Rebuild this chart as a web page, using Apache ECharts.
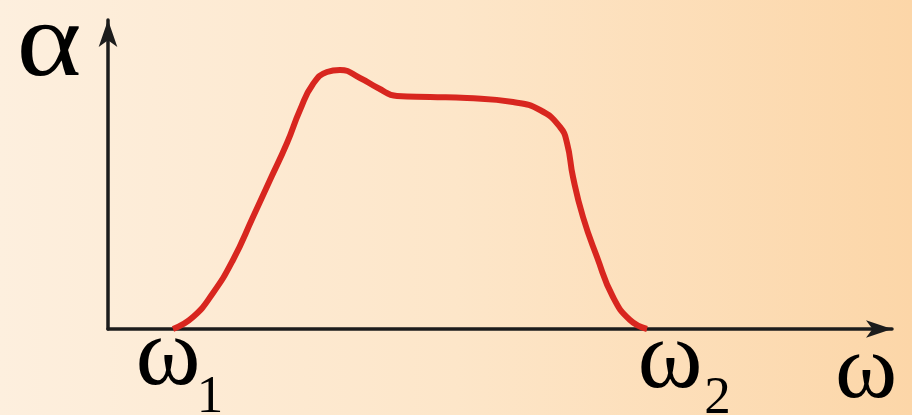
<!DOCTYPE html>
<html>
<head>
<meta charset="utf-8">
<script src="https://cdn.jsdelivr.net/npm/echarts@6/dist/echarts.min.js"></script>
<style>
html,body{margin:0;padding:0;}
#chart{width:912px;height:415px;}
</style>
</head>
<body>
<div id="chart"></div>
<script>
// curve samples: omega (x) and alpha (y), arbitrary units
const omega = [65,85,105,125,145,162,179,192,205,219,232,252,270,289,322,359,405,432,452,459,465,475,489,505,522,539];
const alpha = [0,12,36,69,112,149,186,219,245,257,259,251,241,233,232,231,227,219,202,186,152,112,72,32,9,0];
const tickLabels = ['ω', 'ω'];
const tickSubs = ['1', '2'];
const tickValues = [60, 562];   // centre of the ω glyph of each label
const xName = 'ω';
const yName = 'α';

const chart = echarts.init(document.getElementById('chart'));
const fam = '"Liberation Serif", serif';

function txt(x, y, s, size, sx) {
  return {type: 'text', x: x, y: y, scaleX: sx || 1, silent: true,
    style: {text: s, fontFamily: fam, fontSize: size, fill: '#000', align: 'center', verticalAlign: 'middle'}};
}

function buildGraphic() {
  const g = [];
  tickValues.forEach((v, i) => {
    const p = chart.convertToPixel({gridIndex: 0}, [v, 0]);
    g.push(txt(p[0], 359 + (i ? 2.5 : 0), tickLabels[i], 97, 1.02));
    g.push(txt(p[0] + (i ? 47.5 : 42), 398 + (i ? 1.5 : 0), tickSubs[i], 53));
  });
  g.push(txt(866, 373.5, xName, 90, 1.05));
  g.push(txt(49, 47, yName, 106, 1.17));
  return g;
}

chart.setOption({
  animation: false,
  backgroundColor: {
    type: 'linear', x: 0, y: 0, x2: 1, y2: 0,
    colorStops: [
      {offset: 0, color: '#fdefde'},
      {offset: 0.5, color: '#fde6c9'},
      {offset: 1, color: '#fcd6a8'}
    ]
  },
  grid: {left: 108, right: 20, top: 20, bottom: 86, containLabel: false},
  xAxis: {
    type: 'value', min: 0, max: 784,
    axisLine: {show: true, symbol: ['none', 'arrow'], symbolSize: [13, 26],
      lineStyle: {color: '#1c1c1c', width: 3.5}},
    axisTick: {show: false}, axisLabel: {show: false}, splitLine: {show: false}
  },
  yAxis: {
    type: 'value', min: 0, max: 309,
    axisLine: {show: true, symbol: ['none', 'arrow'], symbolSize: [14, 27],
      lineStyle: {color: '#1c1c1c', width: 3.5}},
    axisTick: {show: false}, axisLabel: {show: false}, splitLine: {show: false}
  },
  series: [{
    type: 'line',
    data: omega.map((x, i) => [x, alpha[i]]),
    smooth: 0.5,
    showSymbol: false,
    lineStyle: {color: '#d8261f', width: 6, cap: 'butt'},
    z: 1
  }]
});
chart.setOption({graphic: buildGraphic()});
</script>
</body>
</html>
